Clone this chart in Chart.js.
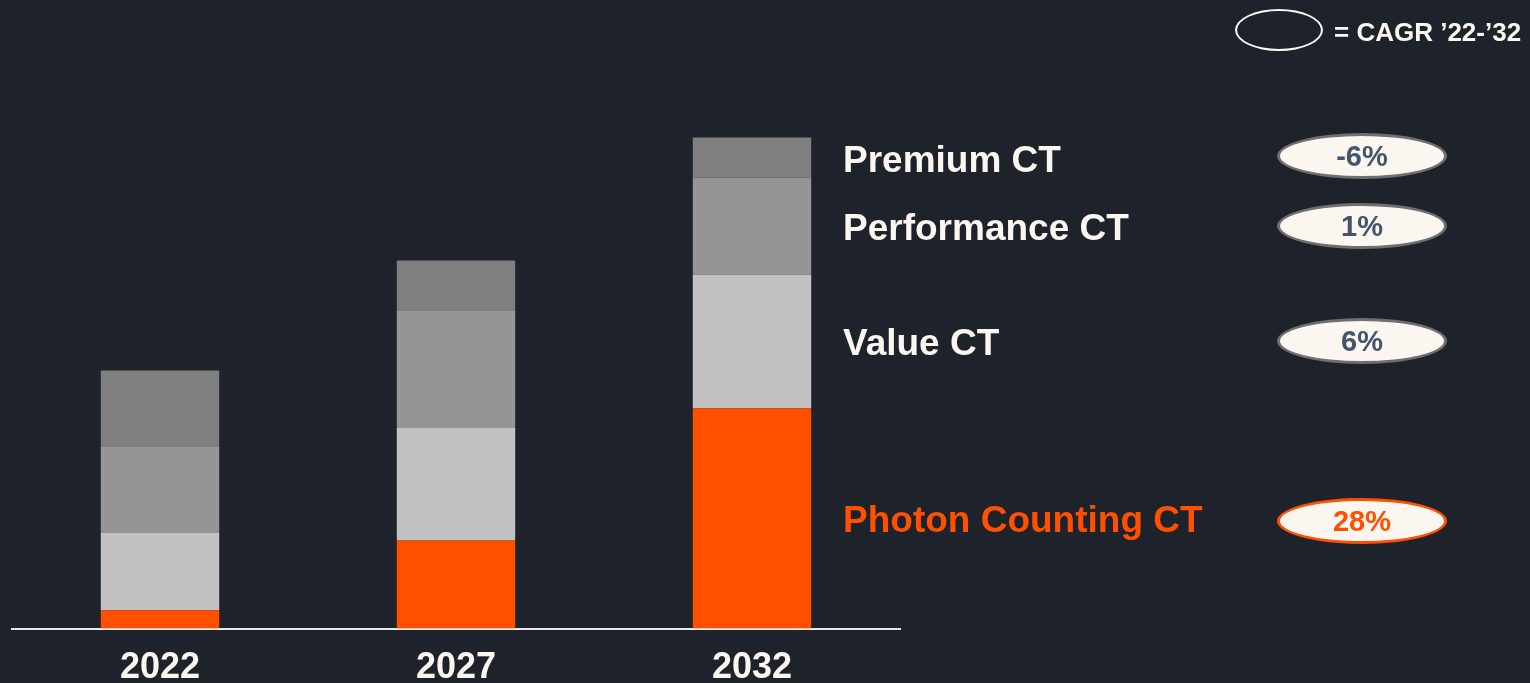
<!DOCTYPE html>
<html>
<head>
<meta charset="utf-8">
<script src="https://cdn.jsdelivr.net/npm/chart.js@4.4.1/dist/chart.umd.min.js"></script>
<style>
  html, body { margin: 0; padding: 0; background: #1e232b; overflow: hidden; }
  #wrap { position: relative; width: 1530px; height: 683px; font-family: "Liberation Sans", Arial, sans-serif; }
  #myChart { position: absolute; left: 0; top: 0; }
  .seg-label { position: absolute; left: 843px; font-weight: bold; font-size: 37px; color: #fcf6f1; white-space: nowrap; transform: translateY(-50%); }
  .pill { position: absolute; left: 1277px; width: 164px; height: 40px; border-radius: 50%; background: #fcf6f1;
          border: 3px solid #6f6f6f; transform: translateY(-50%); text-align: center; line-height: 41px;
          font-weight: bold; font-size: 29px; color: #44546a; }
  .legend-oval { position: absolute; left: 1235px; top: 9px; width: 84px; height: 38px; border-radius: 50%; border: 2px solid #fcf6f1; }
  .legend-text { position: absolute; left: 1334px; top: 17px; font-weight: bold; font-size: 26px; color: #fcf6f1; white-space: nowrap; }
</style>
</head>
<body>
<div id="wrap">
  <canvas id="myChart" width="1530" height="683"></canvas>
  <div class="legend-oval"></div>
  <div class="legend-text">= CAGR ’22-’32</div>
  <div id="labels"></div>
</div>

<script>
  var years = ["2022", "2027", "2032"];

  // segment sizes, bottom to top (relative market size)
  var photonCounting = [18.3, 88.0, 220.3];
  var valueCT = [77.3, 112.6, 133.7];
  var performanceCT = [86.7, 117.7, 97.0];
  var premiumCT = [75.7, 49.7, 40.0];

  var seriesNames = ["Photon Counting CT", "Value CT", "Performance CT", "Premium CT"];
  var cagrLabels = ["28%", "6%", "1%", "-6%"];

  var colors = ["#ff5000", "#c2c2c2", "#959595", "#7f7f7f"];
  var seriesData = [photonCounting, valueCT, performanceCT, premiumCT];

  var datasets = [];
  for (var i = 0; i < seriesData.length; i++) {
    datasets.push({
      label: seriesNames[i],
      data: seriesData[i],
      backgroundColor: colors[i],
      borderWidth: 0,
      categoryPercentage: 1,
      barPercentage: 0.4
    });
  }

  // puts the series names and CAGR ovals next to the last bar, at each segment's middle
  var sideLabels = {
    id: "sideLabels",
    afterRender: function(chart) {
      var box = document.getElementById("labels");
      if (box.childNodes.length) return;
      var y = chart.scales.y;
      var last = years.length - 1;
      var base = 0;
      for (var i = 0; i < seriesData.length; i++) {
        var v = seriesData[i][last];
        var mid = y.getPixelForValue(base + v / 2);
        base += v;

        var lab = document.createElement("div");
        lab.className = "seg-label";
        lab.textContent = seriesNames[i];
        lab.style.top = (mid + 2) + "px";
        if (i == 0) lab.style.color = "#ff5000";
        box.appendChild(lab);

        var pill = document.createElement("div");
        pill.className = "pill";
        pill.textContent = cagrLabels[i];
        pill.style.top = (mid + (i == 0 ? 3 : (i == 3 ? -2 : 0))) + "px";
        if (i == 0) { pill.style.borderColor = "#ff5000"; pill.style.color = "#ff5000"; }
        box.appendChild(pill);
      }
    }
  };

  var config = {
    type: "bar",
    data: { labels: years, datasets: datasets },
    options: {
      responsive: false,
      animation: false,
      layout: { padding: { left: 12, right: 630, top: 0, bottom: 0 } },
      plugins: { legend: { display: false }, tooltip: { enabled: false } },
      scales: {
        x: {
          stacked: true,
          grid: { display: false },
          border: { display: true, color: "#ece8e4", width: 2 },
          ticks: { color: "#fcf6f1", padding: 10, font: { family: "Liberation Sans", size: 36, weight: "bold" } },
          afterFit: function(s) { s.height = 683 - 628.5; }
        },
        y: { stacked: true, display: false, min: 0, max: 628.5 }
      }
    },
    plugins: [sideLabels]
  };

  var ctx = document.getElementById("myChart");
  window.ctChart = new Chart(ctx, config);
</script>
</body>
</html>
